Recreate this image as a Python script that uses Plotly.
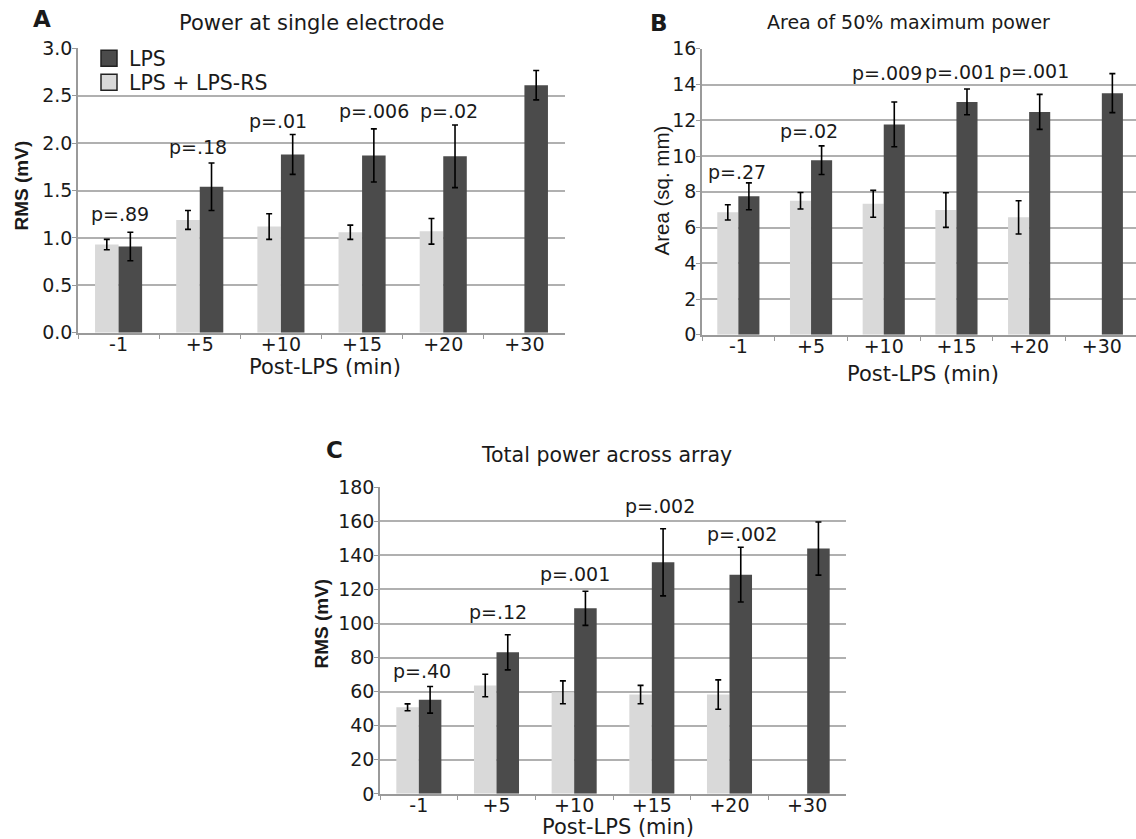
import plotly.graph_objects as go

# ---------------------------------------------------------------- data
categories = ["-1", "+5", "+10", "+15", "+20", "+30"]

# A: power at single electrode, RMS (mV)
a_lps = [0.91, 1.54, 1.88, 1.87, 1.86, 2.61]
a_lps_err = [0.15, 0.25, 0.21, 0.28, 0.33, 0.155]
a_rs = [0.93, 1.19, 1.12, 1.06, 1.07, None]
a_rs_err = [0.055, 0.10, 0.135, 0.075, 0.135, 0]
a_p = ["p=.89", "p=.18", "p=.01", "p=.006", "p=.02"]

# B: area of 50% maximum power (sq. mm)
b_lps = [7.75, 9.77, 11.77, 13.03, 12.47, 13.52]
b_lps_err = [0.75, 0.80, 1.25, 0.72, 0.98, 1.09]
b_rs = [6.85, 7.50, 7.33, 6.98, 6.57, None]
b_rs_err = [0.43, 0.46, 0.75, 0.97, 0.93, 0]
b_p = ["p=.27", "p=.02", "p=.009", "p=.001", "p=.001"]

# C: total power across array, RMS (mV)
c_lps = [55.2, 83.1, 108.9, 135.9, 128.7, 144.0]
c_lps_err = [7.8, 10.3, 10.0, 19.7, 16.1, 15.6]
c_rs = [50.8, 63.6, 59.6, 58.3, 58.3, None]
c_rs_err = [2.0, 6.6, 6.7, 5.4, 8.6, 0]
c_p = ["p=.40", "p=.12", "p=.001", "p=.002", "p=.002"]

# ---------------------------------------------------------------- style
W, H = 1136, 839
# vertical placement: canvas pixel row -> paper fraction
Y_OFF, Y_SCALE = 10.5, 0.9737
FONT = "DejaVu Sans, Verdana, sans-serif"
VFONT = "Liberation Sans, Arial, Helvetica, sans-serif"
DARK = "#4b4b4b"
LIGHT = "#d9d9d9"
GRID = "#b0b0b0"
AXIS = "#9a9a9a"
INK = "#1a1a1a"


def fx(px):
    return px / W


def fy(px):
    return 1 - ((px - Y_OFF) / Y_SCALE) / H


panels = [
    dict(sfx="", letter="A", title="Power at single electrode",
         title_size=21, ytitle="<b>RMS (mV)</b>", ytitle_size=19,
         lps=a_lps, lps_err=a_lps_err, rs=a_rs, rs_err=a_rs_err, p=a_p,
         xdom=(78, 565), ydom=(47.7, 332.3), xrange=(-0.5, 5.5),
         yrange=(0, 3), dtick=0.5, fmt=".1f",
         p_dx=[1, -2, -3, 12, 6], p_dy=[18, 16, 14, 18, 14.5],
         letter_at=(42, 18), title_at=(312, 22),
         xtitle_at=(325, 366), ytitle_at=(22, 185)),
    dict(sfx="2", letter="B", title="Area of 50% maximum power",
         title_size=19, ytitle="Area (sq. mm)", ytitle_size=20.5,
         lps=b_lps, lps_err=b_lps_err, rs=b_rs, rs_err=b_rs_err, p=b_p,
         xdom=(702, 1136), ydom=(48.3, 334.3), xrange=(-0.5, 5.47),
         yrange=(0, 16), dtick=2, fmt="d",
         p_dx=[-1, -2, 3, 4, 5], p_dy=[11, 15, 29, 17.5, 23.4],
         letter_at=(659, 22), title_at=(908, 21),
         xtitle_at=(923, 373), ytitle_at=(662, 190)),
    dict(sfx="3", letter="C", title="Total power across array",
         title_size=20.5, ytitle="<b>RMS (mV)</b>", ytitle_size=19,
         lps=c_lps, lps_err=c_lps_err, rs=c_rs, rs_err=c_rs_err, p=c_p,
         xdom=(380, 846), ydom=(486.7, 793.3), xrange=(-0.5, 5.5),
         yrange=(0, 180), dtick=20, fmt="d",
         p_dx=[3, 1.5, 1, 8, 12], p_dy=[15.5, 23, 17, 23, 13],
         letter_at=(334, 449), title_at=(606, 454),
         xtitle_at=(618, 826), ytitle_at=(322, 623)),
]

fig = go.Figure()
annotations = []
layout = {}

for pn in panels:
    xa, ya = "x" + pn["sfx"], "y" + pn["sfx"]
    err_style = dict(type="data", visible=True, color="#000000",
                     thickness=1.6, width=3)
    fig.add_trace(go.Bar(
        x=categories, y=pn["rs"], xaxis=xa, yaxis=ya, name="LPS + LPS-RS",
        marker=dict(color=LIGHT, line=dict(width=0)), showlegend=False,
        error_y=dict(array=pn["rs_err"], **err_style)))
    fig.add_trace(go.Bar(
        x=categories, y=pn["lps"], xaxis=xa, yaxis=ya, name="LPS",
        marker=dict(color=DARK, line=dict(width=0)), showlegend=False,
        error_y=dict(array=pn["lps_err"], **err_style)))

    layout["xaxis" + pn["sfx"]] = dict(
        domain=[fx(pn["xdom"][0]), fx(pn["xdom"][1])], anchor=ya,
        type="category", range=list(pn["xrange"]),
        showline=True, linecolor=AXIS, linewidth=1.5,
        ticks="outside", tickson="boundaries", ticklen=4, tickcolor=AXIS,
        tickwidth=1, showgrid=False, zeroline=False, ticklabelstandoff=-6,
        tickfont=dict(family=FONT, size=19, color=INK))
    layout["yaxis" + pn["sfx"]] = dict(
        domain=[fy(pn["ydom"][1]), fy(pn["ydom"][0])], anchor=xa,
        range=list(pn["yrange"]), dtick=pn["dtick"], tickformat=pn["fmt"],
        showline=True, linecolor=AXIS, linewidth=1.5,
        ticks="outside", ticklen=4, tickcolor=AXIS, tickwidth=1,
        showgrid=True, gridcolor=GRID, gridwidth=1.5, zeroline=False,
        ticklabelstandoff=-4,
        tickfont=dict(family=FONT, size=19, color=INK))

    # significance labels above each LPS / LPS + LPS-RS pair
    for i, txt in enumerate(pn["p"]):
        annotations.append(dict(
            x=i, y=pn["lps"][i] + pn["lps_err"][i],
            xref=xa, yref=ya, text=txt, showarrow=False,
            xanchor="center", yanchor="middle",
            xshift=pn["p_dx"][i], yshift=pn["p_dy"][i],
            font=dict(family=FONT, size=19, color=INK)))

    annotations.append(dict(
        x=fx(pn["letter_at"][0]), y=fy(pn["letter_at"][1]),
        xref="paper", yref="paper", text="<b>" + pn["letter"] + "</b>",
        showarrow=False, xanchor="center", yanchor="middle",
        font=dict(family=FONT, size=23, color=INK)))
    annotations.append(dict(
        x=fx(pn["title_at"][0]), y=fy(pn["title_at"][1]),
        xref="paper", yref="paper", text=pn["title"], showarrow=False,
        xanchor="center", yanchor="middle",
        font=dict(family=FONT, size=pn["title_size"], color=INK)))
    annotations.append(dict(
        x=fx(pn["xtitle_at"][0]), y=fy(pn["xtitle_at"][1]),
        xref="paper", yref="paper", text="Post-LPS (min)", showarrow=False,
        xanchor="center", yanchor="middle",
        font=dict(family=FONT, size=21, color=INK)))
    annotations.append(dict(
        x=fx(pn["ytitle_at"][0]), y=fy(pn["ytitle_at"][1]),
        xref="paper", yref="paper", text=pn["ytitle"], showarrow=False,
        textangle=-90, xanchor="center", yanchor="middle",
        font=dict(family=VFONT, size=pn["ytitle_size"], color=INK)))

# legend swatches for panel A, one single-entry legend per row
fig.add_trace(go.Scatter(
    x=[None], y=[None], xaxis="x", yaxis="y", mode="markers", name="LPS",
    legend="legend",
    marker=dict(symbol="square", size=16, color=DARK,
                line=dict(color="#222222", width=1.5))))
fig.add_trace(go.Scatter(
    x=[None], y=[None], xaxis="x", yaxis="y", mode="markers",
    name="LPS + LPS-RS", legend="legend2",
    marker=dict(symbol="square", size=16, color=LIGHT,
                line=dict(color="#222222", width=1.5))))

leg_style = dict(xanchor="left", yanchor="middle", bgcolor="rgba(0,0,0,0)",
                 borderwidth=0, font=dict(family=FONT, size=20.5, color=INK))

fig.update_layout(
    width=W, height=H, margin=dict(l=0, r=0, t=0, b=0),
    paper_bgcolor="white", plot_bgcolor="white",
    barmode="group", bargap=0.42, bargroupgap=0,
    showlegend=True,
    legend=dict(x=fx(89), y=fy(58), **leg_style),
    legend2=dict(x=fx(89), y=fy(82), **leg_style),
    annotations=annotations,
    **layout)

fig.write_html("out.html")
